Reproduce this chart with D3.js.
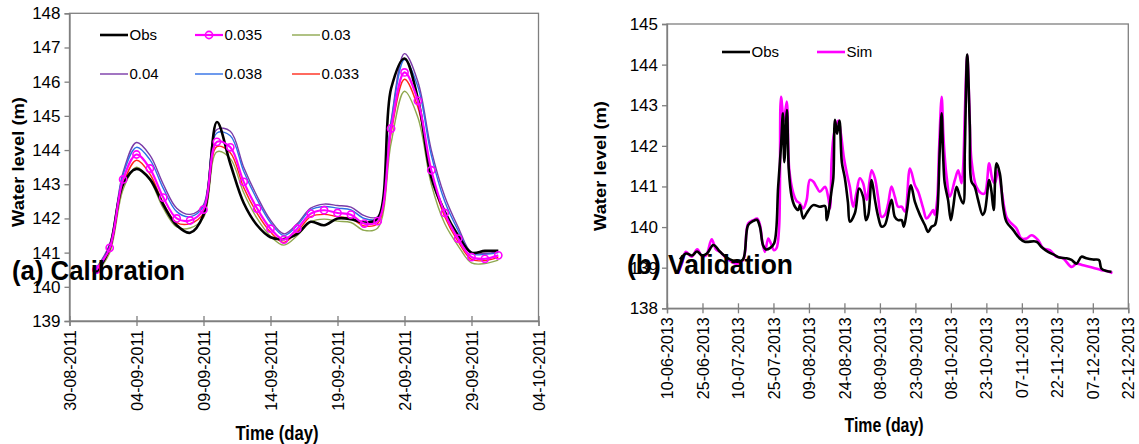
<!DOCTYPE html>
<html><head><meta charset="utf-8">
<script src="https://cdn.jsdelivr.net/npm/d3@7"></script>
<style>
body{margin:0;background:#fff}
svg text{font-family:"Liberation Sans",Arial,sans-serif;fill:#000}
.narrow{font-weight:bold}
</style>
</head><body>
<svg id="c" width="1139" height="444"></svg>
<script>
// ---------- (a) Calibration data ----------
const calDates = ["2011-09-01","2011-09-02","2011-09-03","2011-09-04","2011-09-05","2011-09-06","2011-09-07","2011-09-08","2011-09-09","2011-09-10",
"2011-09-11","2011-09-12","2011-09-13","2011-09-14","2011-09-15","2011-09-16","2011-09-17","2011-09-18","2011-09-19","2011-09-20",
"2011-09-21","2011-09-22","2011-09-23","2011-09-24","2011-09-25","2011-09-26","2011-09-27","2011-09-28","2011-09-29","2011-09-30","2011-10-01"];
const calObs  = [140.40,141.15,143.00,143.45,143.15,142.40,141.80,141.58,142.10,144.82,143.60,142.45,141.80,141.45,141.40,141.55,141.90,141.80,142.00,141.98,141.88,142.00,145.80,146.68,145.50,143.20,142.20,141.50,141.00,141.05,141.05];
const cal035  = [140.50,141.14,143.14,143.87,143.46,142.61,142.00,141.94,142.26,144.24,144.08,143.07,142.29,141.70,141.38,141.70,142.14,142.24,142.16,142.11,141.85,141.92,144.63,146.27,145.44,143.41,142.16,141.41,140.87,140.82,140.92];
const cal03   = [140.40,141.00,142.85,143.50,143.12,142.30,141.75,141.72,142.02,143.95,143.75,142.75,142.00,141.48,141.22,141.50,141.90,141.98,141.92,141.88,141.65,141.72,144.20,145.72,144.95,143.00,141.85,141.20,140.70,140.68,140.78];
const cal04   = [140.55,141.25,143.35,144.22,143.85,143.00,142.30,142.12,142.40,144.60,144.55,143.50,142.65,141.95,141.55,141.85,142.30,142.42,142.38,142.33,142.08,142.05,144.85,146.82,146.00,144.00,142.65,141.75,141.00,140.98,141.02];
const cal038  = [140.53,141.20,143.28,144.08,143.72,142.88,142.20,142.05,142.35,144.50,144.42,143.38,142.55,141.88,141.50,141.80,142.25,142.35,142.30,142.25,142.00,142.00,144.80,146.65,145.85,143.85,142.50,141.65,140.97,140.95,141.00];
const cal033  = [140.45,141.08,143.00,143.70,143.30,142.45,141.88,141.85,142.15,144.10,143.92,142.90,142.15,141.60,141.30,141.62,142.05,142.12,142.05,142.00,141.78,141.85,144.50,146.07,145.25,143.25,142.05,141.32,140.80,140.77,140.86];
const calSeriesNames = ["Obs","0.035","0.03","0.04","0.038","0.033"];
const calTickLabels = ["30-08-2011","04-09-2011","09-09-2011","14-09-2011","19-09-2011","24-09-2011","29-09-2011","04-10-2011"];
const calYTicks = [139,140,141,142,143,144,145,146,147,148];

// ---------- (b) Validation data (day offset from 10-06-2013) ----------
const valObsDay = [5.5,8.0,10.6,12.7,14.8,16.9,19.6,22.3,25.3,29.6,32.1,34.3,36.5,38.0,39.3,40.6,41.8,43.5,45.3,47.0,48.2,49.0,49.6,50.7,51.5,52.7,54.1,55.5,56.2,57.6,59.0,61.8,64.6,66.8,67.5,68.4,69.6,70.3,71.0,71.9,72.9,73.9,75.2,76.5,77.3,79.4,81.2,82.9,84.1,85.1,86.5,87.9,89.3,90.7,92.1,94.9,96.3,97.7,99.2,100.1,101.4,103.1,104.8,106.9,109.0,110.4,111.8,113.2,114.2,115.3,116.1,116.7,117.4,118.8,120.0,121.0,122.4,123.8,125.2,125.9,126.9,128.0,128.7,130.1,131.5,133.4,134.3,136.2,137.1,138.1,139.3,140.7,142.1,143.5,146.3,149.1,151.2,156.2,158.3,161.1,163.9,166.0,168.9,171.0,173.1,175.2,177.3,180.1,182.6,183.6,185.8,187.9];
const valObs    = [139.20,139.35,139.30,139.40,139.30,139.35,139.56,139.40,139.25,139.15,139.20,140.05,140.15,140.18,140.00,139.55,139.45,139.48,139.60,141.00,142.00,142.80,141.60,142.88,141.40,140.75,140.50,140.42,140.54,140.21,140.34,140.54,140.50,140.52,140.17,140.40,140.91,141.20,142.64,142.30,142.62,141.60,141.20,140.60,140.13,140.34,140.95,140.75,140.17,140.30,141.16,140.67,140.25,140.01,140.05,140.67,140.25,140.17,140.17,140.01,140.40,141.03,140.62,140.30,140.05,139.88,140.01,140.05,140.34,141.90,142.80,141.80,141.08,140.67,140.17,140.50,140.99,140.75,140.58,141.90,144.25,142.50,141.12,140.99,140.67,140.30,140.38,141.16,140.90,140.42,141.57,141.32,140.50,140.13,139.93,139.72,139.64,139.64,139.51,139.39,139.31,139.25,139.23,139.19,139.10,139.27,139.23,139.20,139.19,138.98,138.92,138.90];
const valSimDay = [4.6,6.3,8.0,10.4,12.8,14.7,16.5,18.9,20.7,22.4,25.2,29.4,32.2,34.3,36.5,38.1,39.3,40.4,41.4,42.8,43.9,45.2,46.3,47.4,48.2,49.4,50.6,51.7,53.4,54.7,56.2,57.6,59.0,60.4,61.8,63.2,64.6,66.8,68.1,68.9,69.6,70.6,72.4,73.5,74.8,76.1,77.3,78.7,80.1,81.5,82.9,84.4,86.5,87.9,89.3,90.7,92.1,93.5,94.9,96.3,97.7,99.2,100.6,102.7,104.8,106.2,108.3,109.7,111.1,112.5,113.2,114.2,115.0,116.1,116.8,117.4,118.2,119.6,121.7,123.1,124.5,125.2,125.9,126.9,127.8,128.7,130.8,132.9,134.3,136.2,137.6,138.6,140.0,141.4,143.5,144.9,147.7,149.8,152.0,154.1,156.9,159.0,161.8,164.6,167.4,171.0,173.1,175.9,180.1,183.6,185.8,188.3];
const valSim    = [138.85,139.10,139.39,139.27,139.45,139.29,139.30,139.70,139.45,139.39,139.23,139.10,139.19,140.09,140.17,140.21,140.05,139.60,139.39,139.72,139.60,139.43,139.48,140.00,143.21,142.60,143.09,141.40,140.83,140.65,140.58,140.46,140.66,141.16,141.12,140.99,140.87,140.99,140.75,140.46,141.65,142.30,142.62,142.30,141.70,141.30,140.99,140.50,140.85,141.20,141.08,140.67,141.40,141.20,140.71,140.25,140.30,140.58,141.00,140.75,140.50,140.50,140.38,141.44,141.03,140.87,140.46,140.21,140.30,140.42,140.30,140.67,141.90,143.21,142.30,141.73,141.24,140.75,141.16,141.40,141.08,141.50,142.80,144.24,143.00,141.65,140.99,140.83,140.83,141.57,141.16,141.08,141.40,140.91,140.25,140.13,139.97,139.72,139.72,139.80,139.68,139.48,139.43,139.27,139.23,139.02,139.10,139.06,139.00,138.94,138.92,138.87];
const valTickLabels = ["10-06-2013","25-06-2013","10-07-2013","25-07-2013","09-08-2013","24-08-2013","08-09-2013","23-09-2013","08-10-2013","23-10-2013","07-11-2013","22-11-2013","07-12-2013","22-12-2013"];
const valYTicks = [138,139,140,141,142,143,144,145];

// ---------- drawing ----------
const svg = d3.select("#c");
const parse = d3.timeParse("%d-%m-%Y");
const iso = d3.timeParse("%Y-%m-%d");
const frameCol = "#7f7f7f";

function frame(g, x0, x1, y0, y1, xs, ys, xTicks, yTicks, tickFmt) {
  g.append("rect").attr("x", x0).attr("y", y0).attr("width", x1 - x0).attr("height", y1 - y0)
    .attr("fill", "none").attr("stroke", frameCol).attr("stroke-width", 1.3);
  const ya = g.append("g").attr("transform", `translate(${x0},0)`)
    .call(d3.axisLeft(ys).tickValues(yTicks).tickSize(5).tickPadding(4).tickFormat(d3.format("d")));
  ya.select(".domain").attr("stroke", frameCol).attr("stroke-width", 1.3);
  ya.selectAll(".tick line").attr("stroke", frameCol).attr("stroke-width", 1.3);
  ya.selectAll("text").style("font-size", "17px").attr("fill", "#111");
  const xa = g.append("g").attr("transform", `translate(0,${y1})`)
    .call(d3.axisBottom(xs).tickValues(xTicks).tickSize(5).tickFormat(tickFmt));
  xa.select(".domain").attr("stroke", frameCol).attr("stroke-width", 1.3);
  xa.selectAll(".tick line").attr("y1", -5).attr("stroke", frameCol).attr("stroke-width", 1.3);
  xa.selectAll("text").style("font-size", "16px").attr("fill", "#111")
    .attr("transform", "rotate(-90)").attr("text-anchor", "end")
    .attr("x", -9).attr("y", 0).attr("dy", "0.35em");
}

function narrowText(g, x, y, size, width, txt, anchor) {
  return g.append("text").attr("class", "narrow").attr("x", x).attr("y", y)
    .attr("text-anchor", anchor || "start")
    .attr("textLength", width).attr("lengthAdjust", "spacingAndGlyphs")
    .style("font-size", size + "px").text(txt);
}

// ----- (a) -----
{
  const g = svg.append("g");
  const x0 = 69.5, x1 = 538.5, y0 = 13.3, y1 = 321;
  const xs = d3.scaleTime().domain([parse(calTickLabels[0]), parse(calTickLabels[calTickLabels.length - 1])]).range([x0, x1]);
  const ys = d3.scaleLinear().domain([139, 148]).range([y1, y0]);
  const xTicks = calTickLabels.map(parse);
  frame(g, x0, x1, y0, y1, xs, ys, xTicks, calYTicks, d3.timeFormat("%d-%m-%Y"));
  const dates = calDates.map(iso);
  const line = d3.line().x((d, i) => xs(dates[i])).y(d => ys(d)).curve(d3.curveCatmullRom.alpha(0.5));
  const series = [
    {name: "0.03", vals: cal03, col: "#8fa84f", w: 1.4},
    {name: "0.033", vals: cal033, col: "#ff2a1a", w: 1.4},
    {name: "0.04", vals: cal04, col: "#7a3aa8", w: 1.4},
    {name: "0.038", vals: cal038, col: "#2e6fe6", w: 1.4},
    {name: "Obs", vals: calObs, col: "#000000", w: 2.6},
    {name: "0.035", vals: cal035, col: "#ff00ff", w: 2.2},
  ];
  series.forEach(s => g.append("path").attr("d", line(s.vals)).attr("fill", "none")
    .attr("stroke", s.col).attr("stroke-width", s.w));
  g.append("g").selectAll("circle").data(cal035).join("circle")
    .attr("cx", (d, i) => xs(dates[i])).attr("cy", d => ys(d)).attr("r", 3.6)
    .attr("fill", "none").attr("stroke", "#ff00ff").attr("stroke-width", 1.6);
  const leg = [
    {name: "Obs", col: "#000", w: 2.6, x: 100, y: 35},
    {name: "0.035", col: "#ff00ff", w: 2.2, x: 195, y: 35, mk: true},
    {name: "0.03", col: "#8fa84f", w: 1.4, x: 292, y: 35},
    {name: "0.04", col: "#7a3aa8", w: 1.4, x: 100, y: 74},
    {name: "0.038", col: "#2e6fe6", w: 1.4, x: 195, y: 74},
    {name: "0.033", col: "#ff2a1a", w: 1.4, x: 292, y: 74},
  ];
  leg.forEach(l => {
    g.append("line").attr("x1", l.x).attr("x2", l.x + 28).attr("y1", l.y).attr("y2", l.y)
      .attr("stroke", l.col).attr("stroke-width", l.w);
    if (l.mk) g.append("circle").attr("cx", l.x + 14).attr("cy", l.y).attr("r", 3.6)
      .attr("fill", "none").attr("stroke", l.col).attr("stroke-width", 1.6);
    g.append("text").attr("x", l.x + 29.5).attr("y", l.y).attr("dy", "0.36em")
      .style("font-size", "15px").text(l.name);
  });
  g.append("text").attr("transform", "translate(24,162) rotate(-90)").attr("text-anchor", "middle")
    .attr("textLength", 130).attr("lengthAdjust", "spacingAndGlyphs")
    .style("font-size", "16.5px").style("font-weight", "bold").text("Water level (m)");
  narrowText(g, 277, 440, 20, 83, "Time (day)", "middle");
  narrowText(g, 12, 280, 28, 173, "(a) Calibration");
}

// ----- (b) -----
{
  const g = svg.append("g");
  const x0 = 667, x1 = 1128.3, y0 = 24, y1 = 308.3;
  const start = parse(valTickLabels[0]);
  const xs = d3.scaleTime().domain([start, parse(valTickLabels[valTickLabels.length - 1])]).range([x0, x1]);
  const ys = d3.scaleLinear().domain([138, 145]).range([y1, y0]);
  const xTicks = valTickLabels.map(parse);
  frame(g, x0, x1, y0, y1, xs, ys, xTicks, valYTicks, d3.timeFormat("%d-%m-%Y"));
  const toDate = d => new Date(start.getTime() + d * 864e5);
  const line = (days) => d3.line().x((d, i) => xs(toDate(days[i]))).y(d => ys(d)).curve(d3.curveCatmullRom.alpha(0.5));
  g.append("path").attr("d", line(valSimDay)(valSim)).attr("fill", "none").attr("stroke", "#ff00ff").attr("stroke-width", 2.6);
  g.append("path").attr("d", line(valObsDay)(valObs)).attr("fill", "none").attr("stroke", "#000").attr("stroke-width", 2.6);
  const leg = [
    {name: "Obs", col: "#000", x: 722, y: 52},
    {name: "Sim", col: "#ff00ff", x: 817, y: 52},
  ];
  leg.forEach(l => {
    g.append("line").attr("x1", l.x).attr("x2", l.x + 28).attr("y1", l.y).attr("y2", l.y)
      .attr("stroke", l.col).attr("stroke-width", 2.6);
    g.append("text").attr("x", l.x + 29.5).attr("y", l.y).attr("dy", "0.36em")
      .style("font-size", "15px").text(l.name);
  });
  g.append("text").attr("transform", "translate(606,166) rotate(-90)").attr("text-anchor", "middle")
    .attr("textLength", 130).attr("lengthAdjust", "spacingAndGlyphs")
    .style("font-size", "16.5px").style("font-weight", "bold").text("Water level (m)");
  narrowText(g, 884, 432, 20, 79, "Time (day)", "middle");
  narrowText(g, 627, 274, 28, 166, "(b) Validation");
}
</script>
</body></html>
